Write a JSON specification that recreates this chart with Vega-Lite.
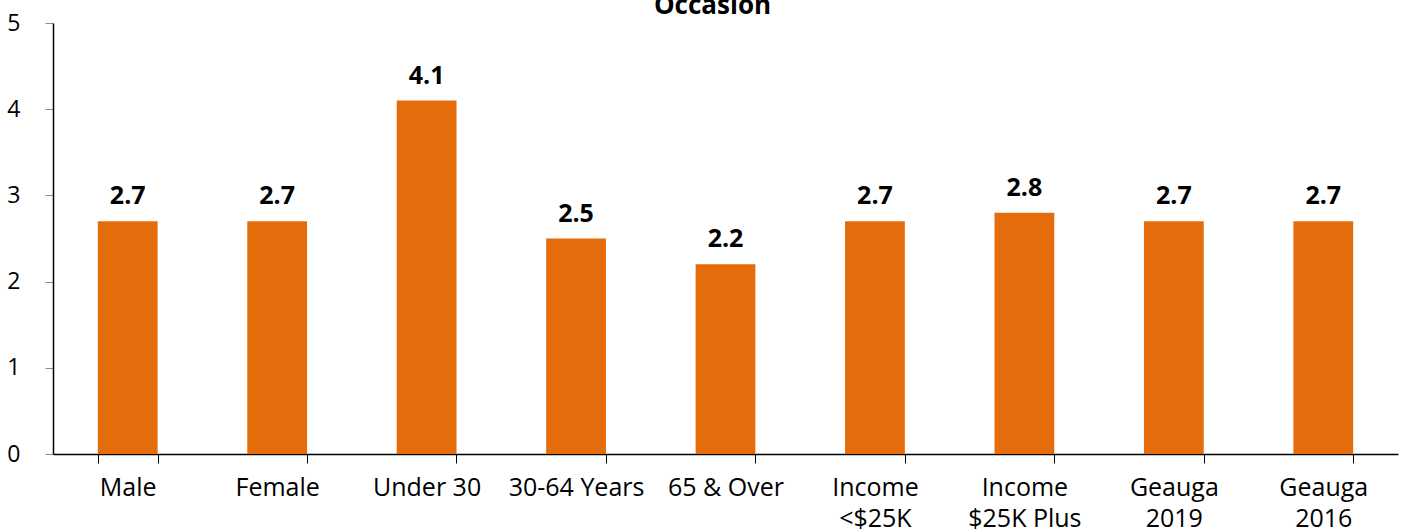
{
  "$schema": "https://vega.github.io/schema/vega-lite/v6.json",
  "autosize": {"type": "none"},
  "padding": {"left": 53, "top": 23, "right": 13, "bottom": 77},
  "width": 1345,
  "height": 431,
  "background": "white",
  "config": {
    "view": {"stroke": null},
    "font": "Open Sans"
  },
  "layer": [
    {
      "data": {
        "values": [
          {"group": "Male", "value": 2.7},
          {"group": "Female", "value": 2.7},
          {"group": "Under 30", "value": 4.1},
          {"group": "30-64 Years", "value": 2.5},
          {"group": "65 & Over", "value": 2.2},
          {"group": "Income|<$25K", "value": 2.7},
          {"group": "Income|$25K Plus", "value": 2.8},
          {"group": "Geauga|2019", "value": 2.7},
          {"group": "Geauga|2016", "value": 2.7}
        ]
      },
      "encoding": {
        "x": {
          "field": "group",
          "type": "nominal",
          "sort": null,
          "scale": {"paddingInner": 0.6, "paddingOuter": 0.3},
          "axis": {
            "title": null,
            "labelAngle": 0,
            "labelExpr": "split(datum.label, '|')",
            "labelFont": "Open Sans",
            "labelFontSize": 25,
            "labelColor": "black",
            "labelLineHeight": 31,
            "labelPadding": 12,
            "labelBaseline": "top",
            "tickBand": "extent",
            "tickSize": 9,
            "tickColor": "black",
            "domainColor": "black",
            "domainWidth": 1.5,
            "grid": false
          }
        },
        "y": {
          "field": "value",
          "type": "quantitative",
          "scale": {"domain": [0, 5], "nice": false},
          "axis": {
            "title": null,
            "values": [0, 1, 2, 3, 4, 5],
            "format": "d",
            "labelFont": "Open Sans",
            "labelFontSize": 23,
            "labelColor": "black",
            "labelPadding": 25,
            "tickSize": 8,
            "tickColor": "#8c8c8c",
            "domainColor": "black",
            "domainWidth": 1.5,
            "grid": false
          }
        }
      },
      "layer": [
        {
          "mark": {"type": "bar", "color": "#E46C0A"}
        },
        {
          "mark": {
            "type": "text",
            "baseline": "alphabetic",
            "dy": -17,
            "font": "Open Sans",
            "fontSize": 25,
            "fontWeight": "bold",
            "color": "black"
          },
          "encoding": {
            "text": {"field": "value", "type": "quantitative", "format": ".1f"}
          }
        }
      ]
    },
    {
      "data": {"values": [{"heading": "Occasion"}]},
      "mark": {
        "type": "text",
        "baseline": "alphabetic",
        "align": "center",
        "dx": -13,
        "font": "Open Sans",
        "fontSize": 26,
        "fontWeight": "bold",
        "color": "black"
      },
      "encoding": {
        "x": {"datum": "65 & Over", "type": "nominal"},
        "y": {"datum": 5.105, "type": "quantitative"},
        "text": {"field": "heading"}
      }
    }
  ]
}
